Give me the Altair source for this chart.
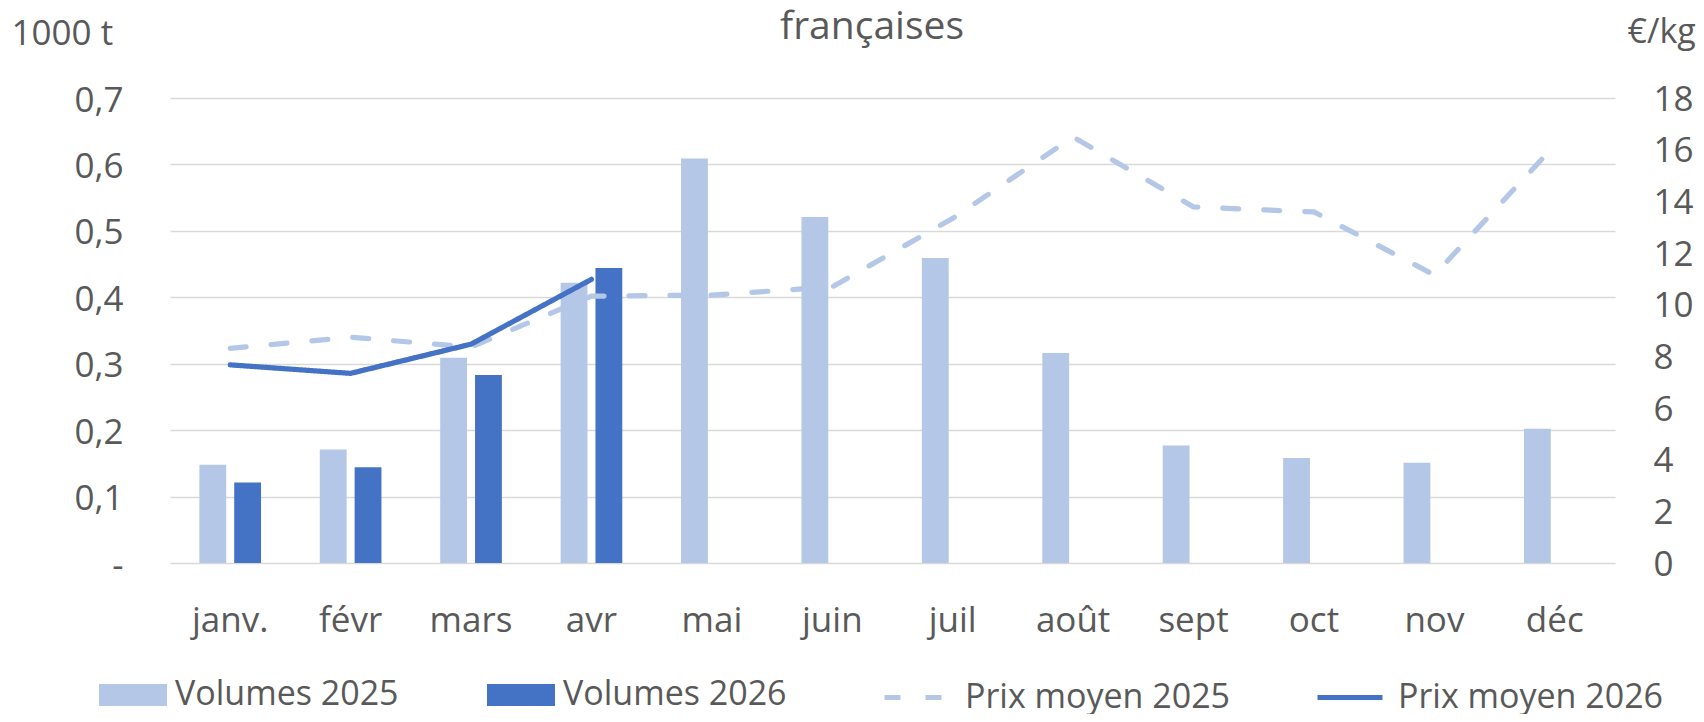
import altair as alt
import pandas as pd

months = ["janv.", "févr", "mars", "avr", "mai", "juin", "juil", "août", "sept", "oct", "nov", "déc"]
vol_2025 = [0.148, 0.171, 0.309, 0.422, 0.609, 0.521, 0.459, 0.316, 0.177, 0.158, 0.151, 0.202]
vol_2026 = [0.121, 0.144, 0.283, 0.444]
prix_2025 = [8.31, 8.74, 8.36, 10.33, 10.37, 10.69, 13.34, 16.49, 13.78, 13.59, 11.15, 16.17]
prix_2026 = [7.67, 7.34, 8.47, 10.98]

bar_series = ["Volumes 2025", "Volumes 2026"]
line_series = ["Prix moyen 2025", "Prix moyen 2026"]
left_ticks = [0, 0.1, 0.2, 0.3, 0.4, 0.5, 0.6, 0.7]
right_ticks = [0, 2, 4, 6, 8, 10, 12, 14, 16, 18]

bar_rows = []
for m, v in zip(months, vol_2025):
    bar_rows.append({"mois": m, "serie": bar_series[0], "volume": v})
for m, v in zip(months, vol_2026):
    bar_rows.append({"mois": m, "serie": bar_series[1], "volume": v})
bar_df = pd.DataFrame(bar_rows)

line_rows = []
for m, v in zip(months, prix_2025):
    line_rows.append({"mois": m, "serie": line_series[0], "prix": v})
for m, v in zip(months, prix_2026):
    line_rows.append({"mois": m, "serie": line_series[1], "prix": v})
line_df = pd.DataFrame(line_rows)

TEXT = "#595959"
FONT = "Open Sans"
FS = 35
LFS = 34
LIGHT = "#B4C7E7"
DARK = "#4472C4"

x_scale = alt.Scale(domain=months, paddingInner=0.488, paddingOuter=0.244)

bars = alt.Chart(bar_df).mark_bar().encode(
    x=alt.X("mois:N", sort=months, scale=x_scale,
            axis=alt.Axis(orient="bottom", title=None, labelFont=FONT, labelFontSize=FS,
                          labelColor=TEXT, labelAngle=0, labelBaseline="alphabetic",
                          labelPadding=68, ticks=False, tickSize=0, domain=False, grid=False)),
    xOffset=alt.XOffset("serie:N", scale=alt.Scale(domain=bar_series, paddingInner=0.23, paddingOuter=0)),
    y=alt.Y("volume:Q", scale=alt.Scale(domain=[0, 0.7], nice=False),
            axis=alt.Axis(orient="left", values=left_ticks,
                          labelExpr="datum.value == 0 ? '-\u00a0\u00a0' : replace(format(datum.value, '.1f'), '.', ',')",
                          grid=True, gridColor="#D9D9D9", gridWidth=1.7, domain=False,
                          ticks=False, tickSize=0, labelPadding=47, labelBaseline="alphabetic",
                          labelOffset=13, labelFont=FONT, labelFontSize=FS, labelColor=TEXT,
                          title="1000 t", titleAngle=0, titleAlign="left", titleBaseline="alphabetic",
                          titleX=-159, titleY=-54, titleFont=FONT, titleFontSize=FS,
                          titleColor=TEXT, titleFontWeight="normal")),
    fill=alt.Fill("serie:N", scale=alt.Scale(domain=bar_series, range=[LIGHT, DARK]),
                  legend=alt.Legend(title=None, orient="none", legendX=-71, legendY=563,
                                    direction="horizontal", columns=2,
                                    symbolType="M-1,-0.324H1V0.324H-1Z", symbolSize=4624,
                                    symbolStrokeWidth=0, labelFont=FONT, labelFontSize=LFS,
                                    labelColor=TEXT, labelOffset=8, columnPadding=88,
                                    labelLimit=600, padding=0)),
)

line_legend = alt.Legend(title=None, orient="none", legendX=712, legendY=564.5,
                         direction="horizontal", columns=2, symbolType="stroke",
                         symbolSize=4225, symbolStrokeWidth=5, labelFont=FONT,
                         labelFontSize=LFS, labelColor=TEXT, labelOffset=13,
                         columnPadding=76, labelLimit=600, padding=0)

lines = alt.Chart(line_df).mark_line(strokeWidth=5.2, strokeCap="round", strokeJoin="round").encode(
    x=alt.X("mois:N", sort=months, scale=x_scale,
            axis=alt.Axis(orient="top", labels=False, ticks=False, tickSize=0, domain=False, grid=False,
                          title="françaises", titleX=701.5, titleY=-60, titleAlign="center",
                          titleBaseline="alphabetic", titleFont=FONT, titleFontSize=39,
                          titleFontWeight="normal", titleColor=TEXT)),
    y=alt.Y("prix:Q", scale=alt.Scale(domain=[0, 18], nice=False),
            axis=alt.Axis(orient="right", values=right_ticks, grid=False, domain=False,
                          ticks=False, tickSize=0, labelPadding=38, labelAlign="left",
                          labelBaseline="alphabetic", labelOffset=12, labelFont=FONT,
                          labelFontSize=FS, labelColor=TEXT,
                          title="€/kg", titleAngle=0, titleAlign="left", titleBaseline="alphabetic",
                          titleX=12, titleY=-56, titleFont=FONT, titleFontSize=34,
                          titleColor=TEXT, titleFontWeight="normal")),
    stroke=alt.Stroke("serie:N", scale=alt.Scale(domain=line_series, range=[LIGHT, DARK]),
                      legend=line_legend),
    strokeDash=alt.StrokeDash("serie:N", scale=alt.Scale(domain=line_series, range=[[16, 25], [1, 0]]),
                              legend=line_legend),
)

chart = alt.layer(bars, lines).resolve_scale(y="independent").resolve_axis(x="independent").properties(
    width=1445, height=465,
    padding={"left": 162, "top": 90, "right": 81, "bottom": 151},
    autosize=alt.AutoSizeParams(type="none"),
).configure_view(stroke=None)

chart.save("out.html", embed_options={"renderer": "svg", "actions": False})
